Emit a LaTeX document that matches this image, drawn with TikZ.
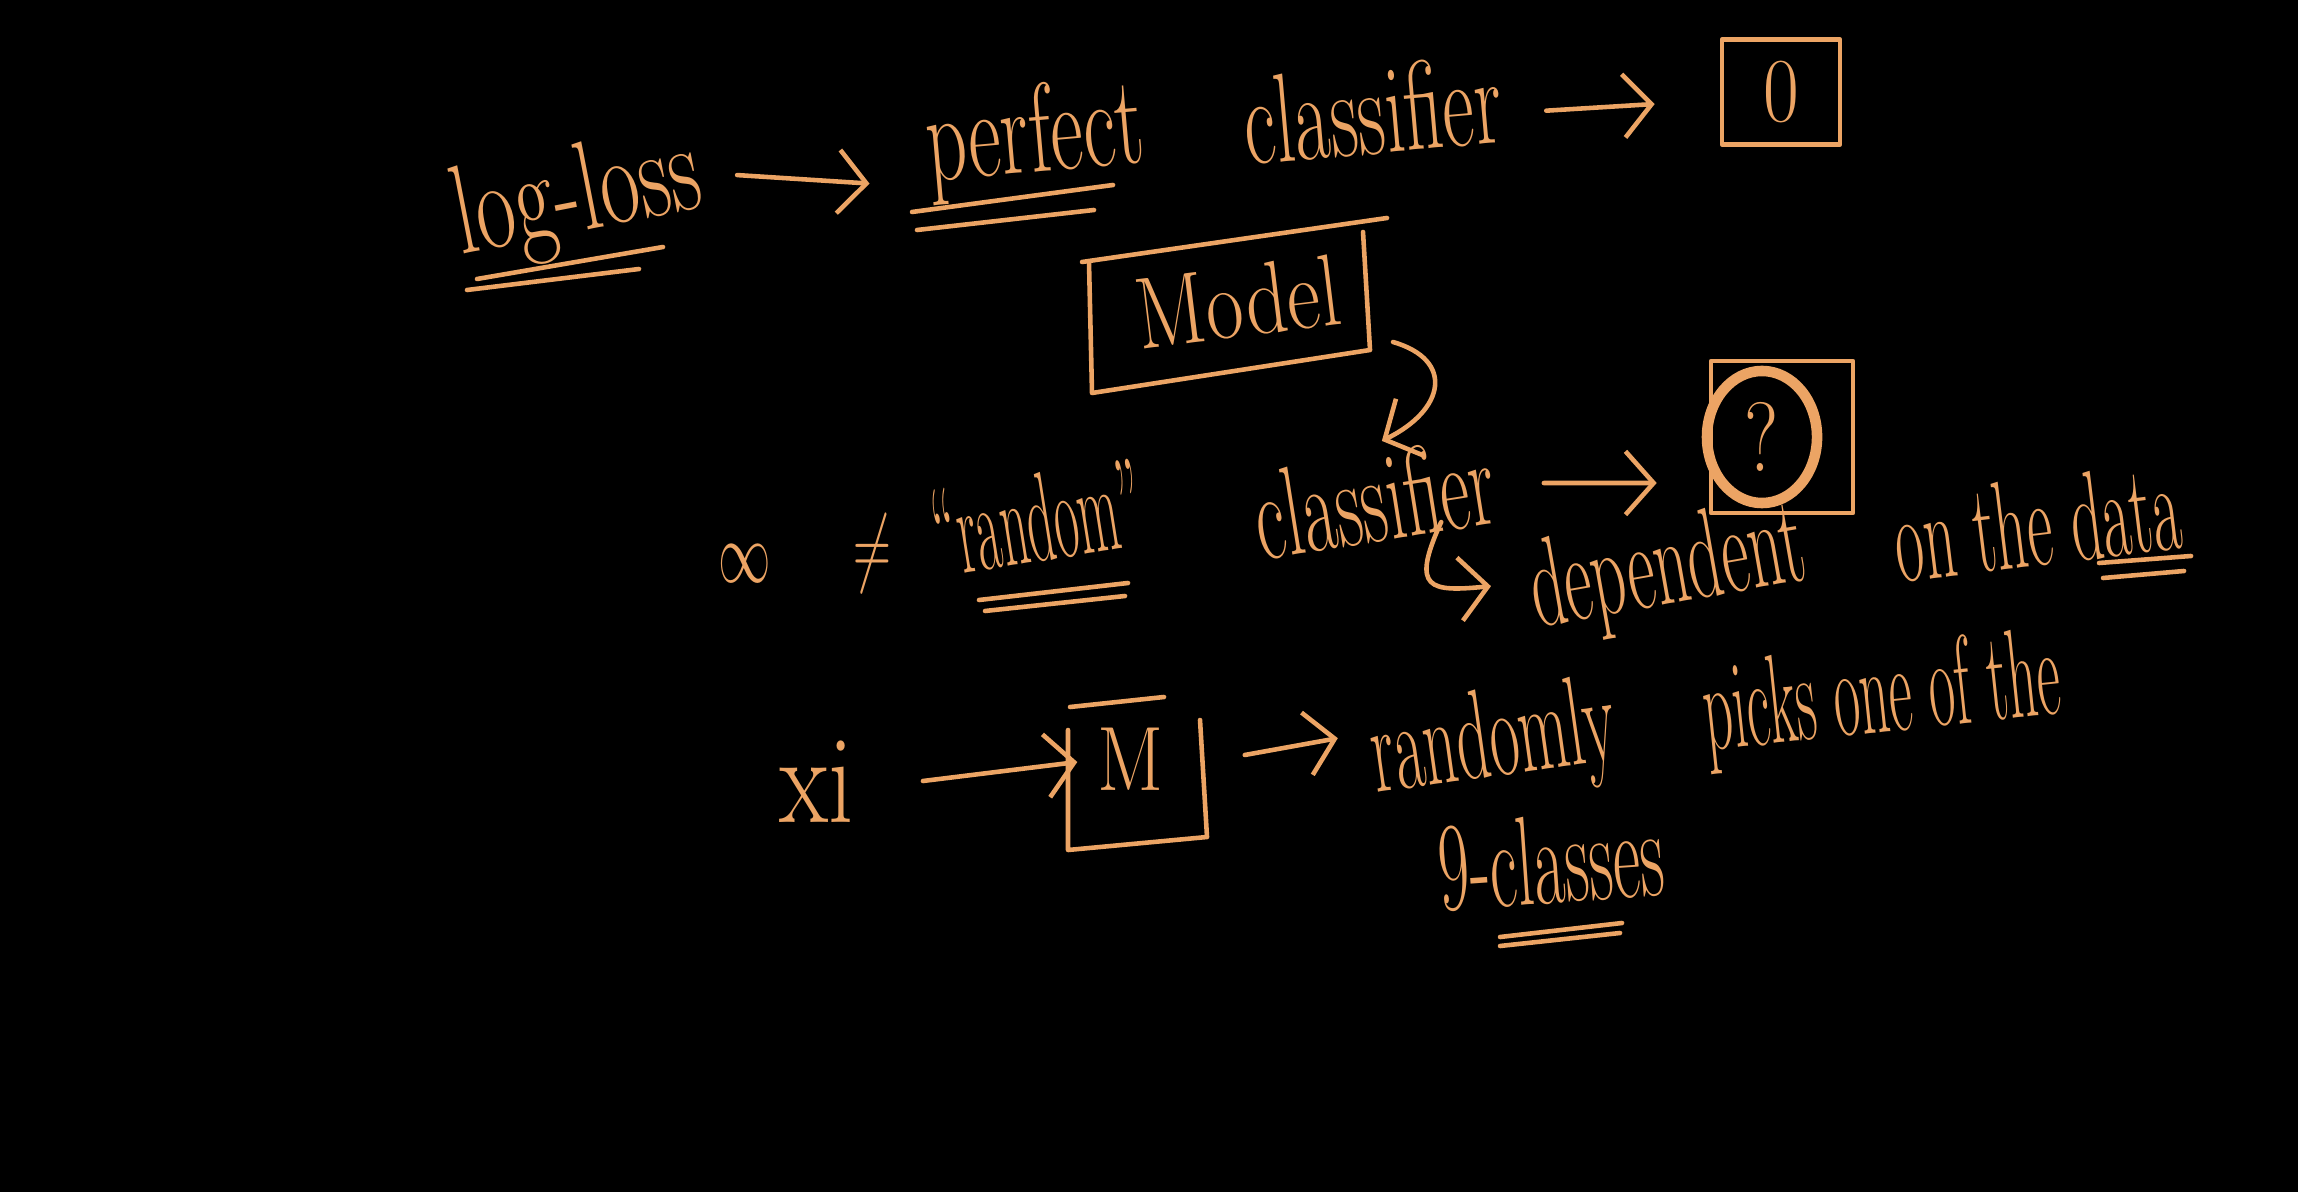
\documentclass[tikz,border=0pt]{standalone}
\usepackage{graphicx}
\usetikzlibrary{arrows.meta,shapes.geometric}
\definecolor{ink}{RGB}{236,164,100}
\newcommand\hwtext[2]{\scalebox{#1}[1]{#2}}
\begin{document}
\begin{tikzpicture}[x=0.01cm,y=-0.01cm,
  hw/.style={text=ink, inner sep=0pt, font=\fontsize{36}{40}\selectfont},
  stroke/.style={draw=ink, line width=1.3pt, line cap=round, line join=round},
  arr/.style={stroke, -{Straight Barb[length=8pt,width=18pt]}}]
\fill[black] (0,0) rectangle (2298,1192);
\useasboundingbox (0,0) rectangle (2298,1192);

% --- row 1
\node[hw, rotate=11] (logloss) at (578,200) {\hwtext{0.68}{log-loss}};
\node[hw, rotate=5] (perfect) at (1035,140) {\hwtext{0.63}{perfect}};
\node[hw, rotate=5] (classifier) at (1372,110) {\hwtext{0.61}{classifier}};
\node[stroke, hw, minimum width=1.18cm, minimum height=1.05cm] (zero) at (1781,92) {\fontsize{26}{30}\selectfont\hwtext{0.85}{0}};
\draw[stroke] (477,279) -- (663,247);
\draw[stroke] (467,290) -- (639,269);
\draw[stroke] (912,212) -- (1113,185);
\draw[stroke] (917,230) -- (1094,210);
\draw[arr] ([shift={(36,-1)}]logloss.east) -- ([shift={(-56,34)}]perfect.west);
\draw[arr] ([shift={(45,12)}]classifier.east) -- ([shift={(-65,12)}]zero.west);

% --- model box
\node[hw, rotate=7, font=\fontsize{29}{33}\selectfont] (model) at (1238,302) {\hwtext{0.8}{Model}};
\coordinate (mtl) at (1089,263);
\coordinate (mbl) at (1092,393);
\coordinate (mbr) at (1370,350);
\coordinate (mtr) at (1363,232);
\draw[stroke] (1082,262) -- (1387,218);
\draw[stroke] (mtl) -- (mbl) -- (mbr) -- (mtr);

% --- row 2
\node[hw] (inf) at (745,564) {\hwtext{0.6}{$\infty$}};
\node[hw] (neq) at (872,554) {\hwtext{0.6}{$\neq$}};
\node[hw, rotate=9] (random) at (1037,518) {\hwtext{0.42}{“random”}};
\node[hw, rotate=9] (classifier2) at (1374,498) {\hwtext{0.57}{classifier}};
\draw[stroke] (979,600) -- (1128,583);
\draw[stroke] (985,611) -- (1125,596);
\node[stroke, minimum width=1.42cm, minimum height=1.52cm] (qbox) at (1782,437) {};
\node[draw=ink, line width=3pt, ellipse, minimum width=1.1cm, minimum height=1.32cm, inner sep=0pt, text=ink, font=\fontsize{28}{32}\selectfont] (qcirc) at (1762,437) {\hwtext{0.8}{?}};
\draw[arr] ([shift={(50,4)}]classifier2.east) -- ([shift={(-52,46)}]qbox.west);
\draw[arr] (mbr) ++(23,-8) .. controls (1455,360) and (1445,410) .. ([shift={(15,-12)}]classifier2.north);

\node[hw, rotate=10] (dependent) at (1668,572) {\hwtext{0.53}{dependent}};
\node[hw, rotate=7] (onthedata) at (2037,522) {\hwtext{0.49}{on the data}};
\draw[stroke] (2099,563) -- (2191,556);
\draw[stroke] (2103,578) -- (2184,571);
\draw[arr] ([shift={(60,-21)}]classifier2.south) .. controls (1410,590) and (1430,592) .. ([shift={(-40,-10)}]dependent.west);

% --- row 3
\node[hw] (xi) at (817,782) {\hwtext{0.8}{xi}};
\node[hw] (M) at (1131,759) {\fontsize{26}{30}\selectfont\hwtext{0.85}{M}};
\coordinate (btl) at (1068,730);
\coordinate (bbl) at (1068,850);
\coordinate (bbr) at (1207,837);
\coordinate (btr) at (1200,720);
\draw[stroke] (btl) -- (bbl) -- (bbr) -- (btr);
\draw[stroke] (1070,707) -- (1164,697);
\draw[arr] ([shift={(68,-1)}]xi.east) -- ([shift={(-20,3)}]M.west);
\node[hw, rotate=8] (randomly) at (1494,745) {\hwtext{0.51}{randomly}};
\node[hw, rotate=6] (picks) at (1882,700) {\hwtext{0.45}{picks one of the}};
\draw[arr] ([shift={(80,-4)}]M.east) -- ([shift={(-34,-24)}]randomly.west);
\node[hw, rotate=4] (classes) at (1551,860) {\hwtext{0.53}{9-classes}};
\draw[stroke] (1500,937) -- (1622,923);
\draw[stroke] (1500,946) -- (1620,933);
\end{tikzpicture}
\end{document}
